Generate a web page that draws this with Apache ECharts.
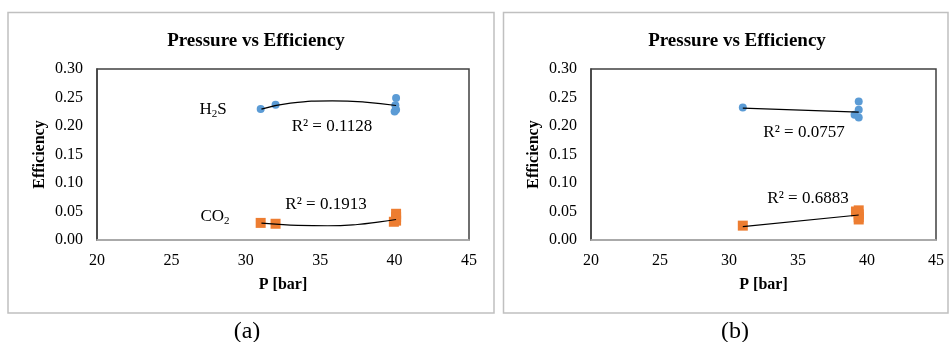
<!DOCTYPE html>
<html>
<head>
<meta charset="utf-8">
<script src="https://cdn.jsdelivr.net/npm/echarts@6/dist/echarts.min.js"></script>
<style>
html,body{margin:0;padding:0;background:#fff;}
#chart{width:949px;height:342px;}
</style>
</head>
<body>
<div id="chart"></div>
<script>
// ---- data ----
const xTicks = [20, 25, 30, 35, 40, 45];
const yTicks = ['0.00','0.05','0.10','0.15','0.20','0.25','0.30'];

// panel (a)
const h2sA = [[31, 0.2297], [32, 0.2372], [40.1, 0.249], [40.05, 0.2365], [40.1, 0.2285], [40, 0.2255]];
const co2A = [[31, 0.0300], [32, 0.0285], [40.1, 0.0460], [40.1, 0.0400], [40.1, 0.0340], [39.95, 0.0320]];
const h2sTrendA = [[31.05, 0.2295], [33, 0.2400], [35.8, 0.2442], [38, 0.2420], [40.1, 0.2360]];
const co2TrendA = [[31.05, 0.0295], [32, 0.0278], [33.5, 0.0258], [35.5, 0.0250], [37.5, 0.0272], [39, 0.0318], [40.1, 0.0360]];
const r2A = ['R² = 0.1128', 'R² = 0.1913'];

// panel (b)
const h2sB = [[31, 0.2325], [39.4, 0.2430], [39.4, 0.2284], [39.1, 0.2196], [39.4, 0.2150]];
const co2B = [[31, 0.0252], [39.4, 0.0520], [39.2, 0.0500], [39.4, 0.0450], [39.4, 0.0400], [39.4, 0.0360]];
const h2sTrendB = [[31, 0.2315], [39.4, 0.2243]];
const co2TrendB = [[31, 0.0234], [39.4, 0.0439]];
const r2B = ['R² = 0.0757', 'R² = 0.6883'];

const titleText = 'Pressure vs Efficiency';
const xName = 'P [bar]';
const yName = 'Efficiency';
const captions = ['(a)', '(b)'];

// ---- chart ----
const FONT = '"Liberation Serif", "Times New Roman", serif';
const BLUE = '#5B9BD5', ORANGE = '#ED7D31';
const chart = echarts.init(document.getElementById('chart'), null, {renderer: 'canvas'});

const grids = [
  {left: 97, top: 69, width: 372, height: 171, show: true, borderColor: '#404040', borderWidth: 1.5, backgroundColor: 'transparent'},
  {left: 591, top: 69, width: 345, height: 171, show: true, borderColor: '#404040', borderWidth: 1.5, backgroundColor: 'transparent'}
];

function xAxis(i) {
  return {
    gridIndex: i, type: 'value', min: xTicks[0], max: xTicks[xTicks.length - 1], interval: 5,
    splitLine: {show: false}, axisTick: {show: false},
    axisLine: {show: true, lineStyle: {color: '#bfbfbf', width: 1.5}},
    axisLabel: {color: '#000', fontFamily: FONT, fontSize: 16, margin: 13},
    name: xName, nameLocation: 'middle', nameGap: 37,
    nameTextStyle: {color: '#000', fontFamily: FONT, fontSize: 16, fontWeight: 'bold'}
  };
}
function yAxis(i) {
  return {
    gridIndex: i, type: 'value', min: 0, max: 0.3, interval: 0.05,
    splitLine: {show: false}, axisTick: {show: false},
    axisLine: {show: true, lineStyle: {color: '#404040', width: 1.5}},
    axisLabel: {color: '#000', fontFamily: FONT, fontSize: 16, margin: 14,
      formatter: v => yTicks[Math.round(v / 0.05)]},
    name: yName, nameLocation: 'middle', nameGap: 49,
    nameTextStyle: {color: '#000', fontFamily: FONT, fontSize: 16, fontWeight: 'bold'}
  };
}

function scatter(i, data, color, symbol, size) {
  return {type: 'scatter', xAxisIndex: i, yAxisIndex: i, data: data, symbol: symbol, symbolSize: size,
    itemStyle: {color: color, opacity: 1}, z: 3};
}
function trend(i, data, smooth) {
  return {type: 'line', xAxisIndex: i, yAxisIndex: i, data: data, smooth: smooth, showSymbol: false,
    lineStyle: {color: '#000', width: 1.2}, z: 4, silent: true};
}

function txt(x, y, text, size) {
  return {type: 'text', x: x, y: y, style: {text: text, fill: '#000',
    font: size + 'px ' + FONT, align: 'center', verticalAlign: 'middle'}, z: 10};
}

const option = {
  backgroundColor: '#fff',
  animation: false,
  title: [
    {text: titleText, left: 251, top: 27, textAlign: 'center', textStyle: {fontFamily: FONT, fontSize: 19, fontWeight: 'bold', color: '#000'}},
    {text: titleText, left: 732, top: 27, textAlign: 'center', textStyle: {fontFamily: FONT, fontSize: 19, fontWeight: 'bold', color: '#000'}}
  ],
  grid: grids,
  xAxis: [xAxis(0), xAxis(1)],
  yAxis: [yAxis(0), yAxis(1)],
  series: [
    scatter(0, h2sA, BLUE, 'circle', 8),
    scatter(0, co2A, ORANGE, 'rect', 10),
    trend(0, h2sTrendA, 0.5),
    trend(0, co2TrendA, 0.5),
    scatter(1, h2sB, BLUE, 'circle', 8),
    scatter(1, co2B, ORANGE, 'rect', 10),
    trend(1, h2sTrendB, false),
    trend(1, co2TrendB, false)
  ],
  graphic: [
    {type: 'rect', shape: {x: 8, y: 12.5, width: 486, height: 300.5}, style: {fill: 'none', stroke: '#c0c0c0', lineWidth: 1.5}, z: 0},
    {type: 'rect', shape: {x: 503.5, y: 12.5, width: 444.5, height: 300.5}, style: {fill: 'none', stroke: '#c0c0c0', lineWidth: 1.5}, z: 0},
    {type: 'text', x: 213, y: 110, style: {text: '{n|H}{s|2}{n|S}', rich: {n: {fontFamily: FONT, fontSize: 17, fill: '#000'}, s: {fontFamily: FONT, fontSize: 11, fill: '#000', padding: [9, 0, 0, 0]}}, align: 'center', verticalAlign: 'middle'}, z: 10},
    {type: 'text', x: 215, y: 217, style: {text: '{n|CO}{s|2}', rich: {n: {fontFamily: FONT, fontSize: 17, fill: '#000'}, s: {fontFamily: FONT, fontSize: 11, fill: '#000', padding: [9, 0, 0, 0]}}, align: 'center', verticalAlign: 'middle'}, z: 10},
    txt(332, 127, r2A[0], 17),
    txt(326, 205, r2A[1], 17),
    txt(804, 133, r2B[0], 17),
    txt(808, 199, r2B[1], 17),
    txt(247, 332, captions[0], 24),
    txt(735, 332, captions[1], 24)
  ]
};
chart.setOption(option);
</script>
</body>
</html>
